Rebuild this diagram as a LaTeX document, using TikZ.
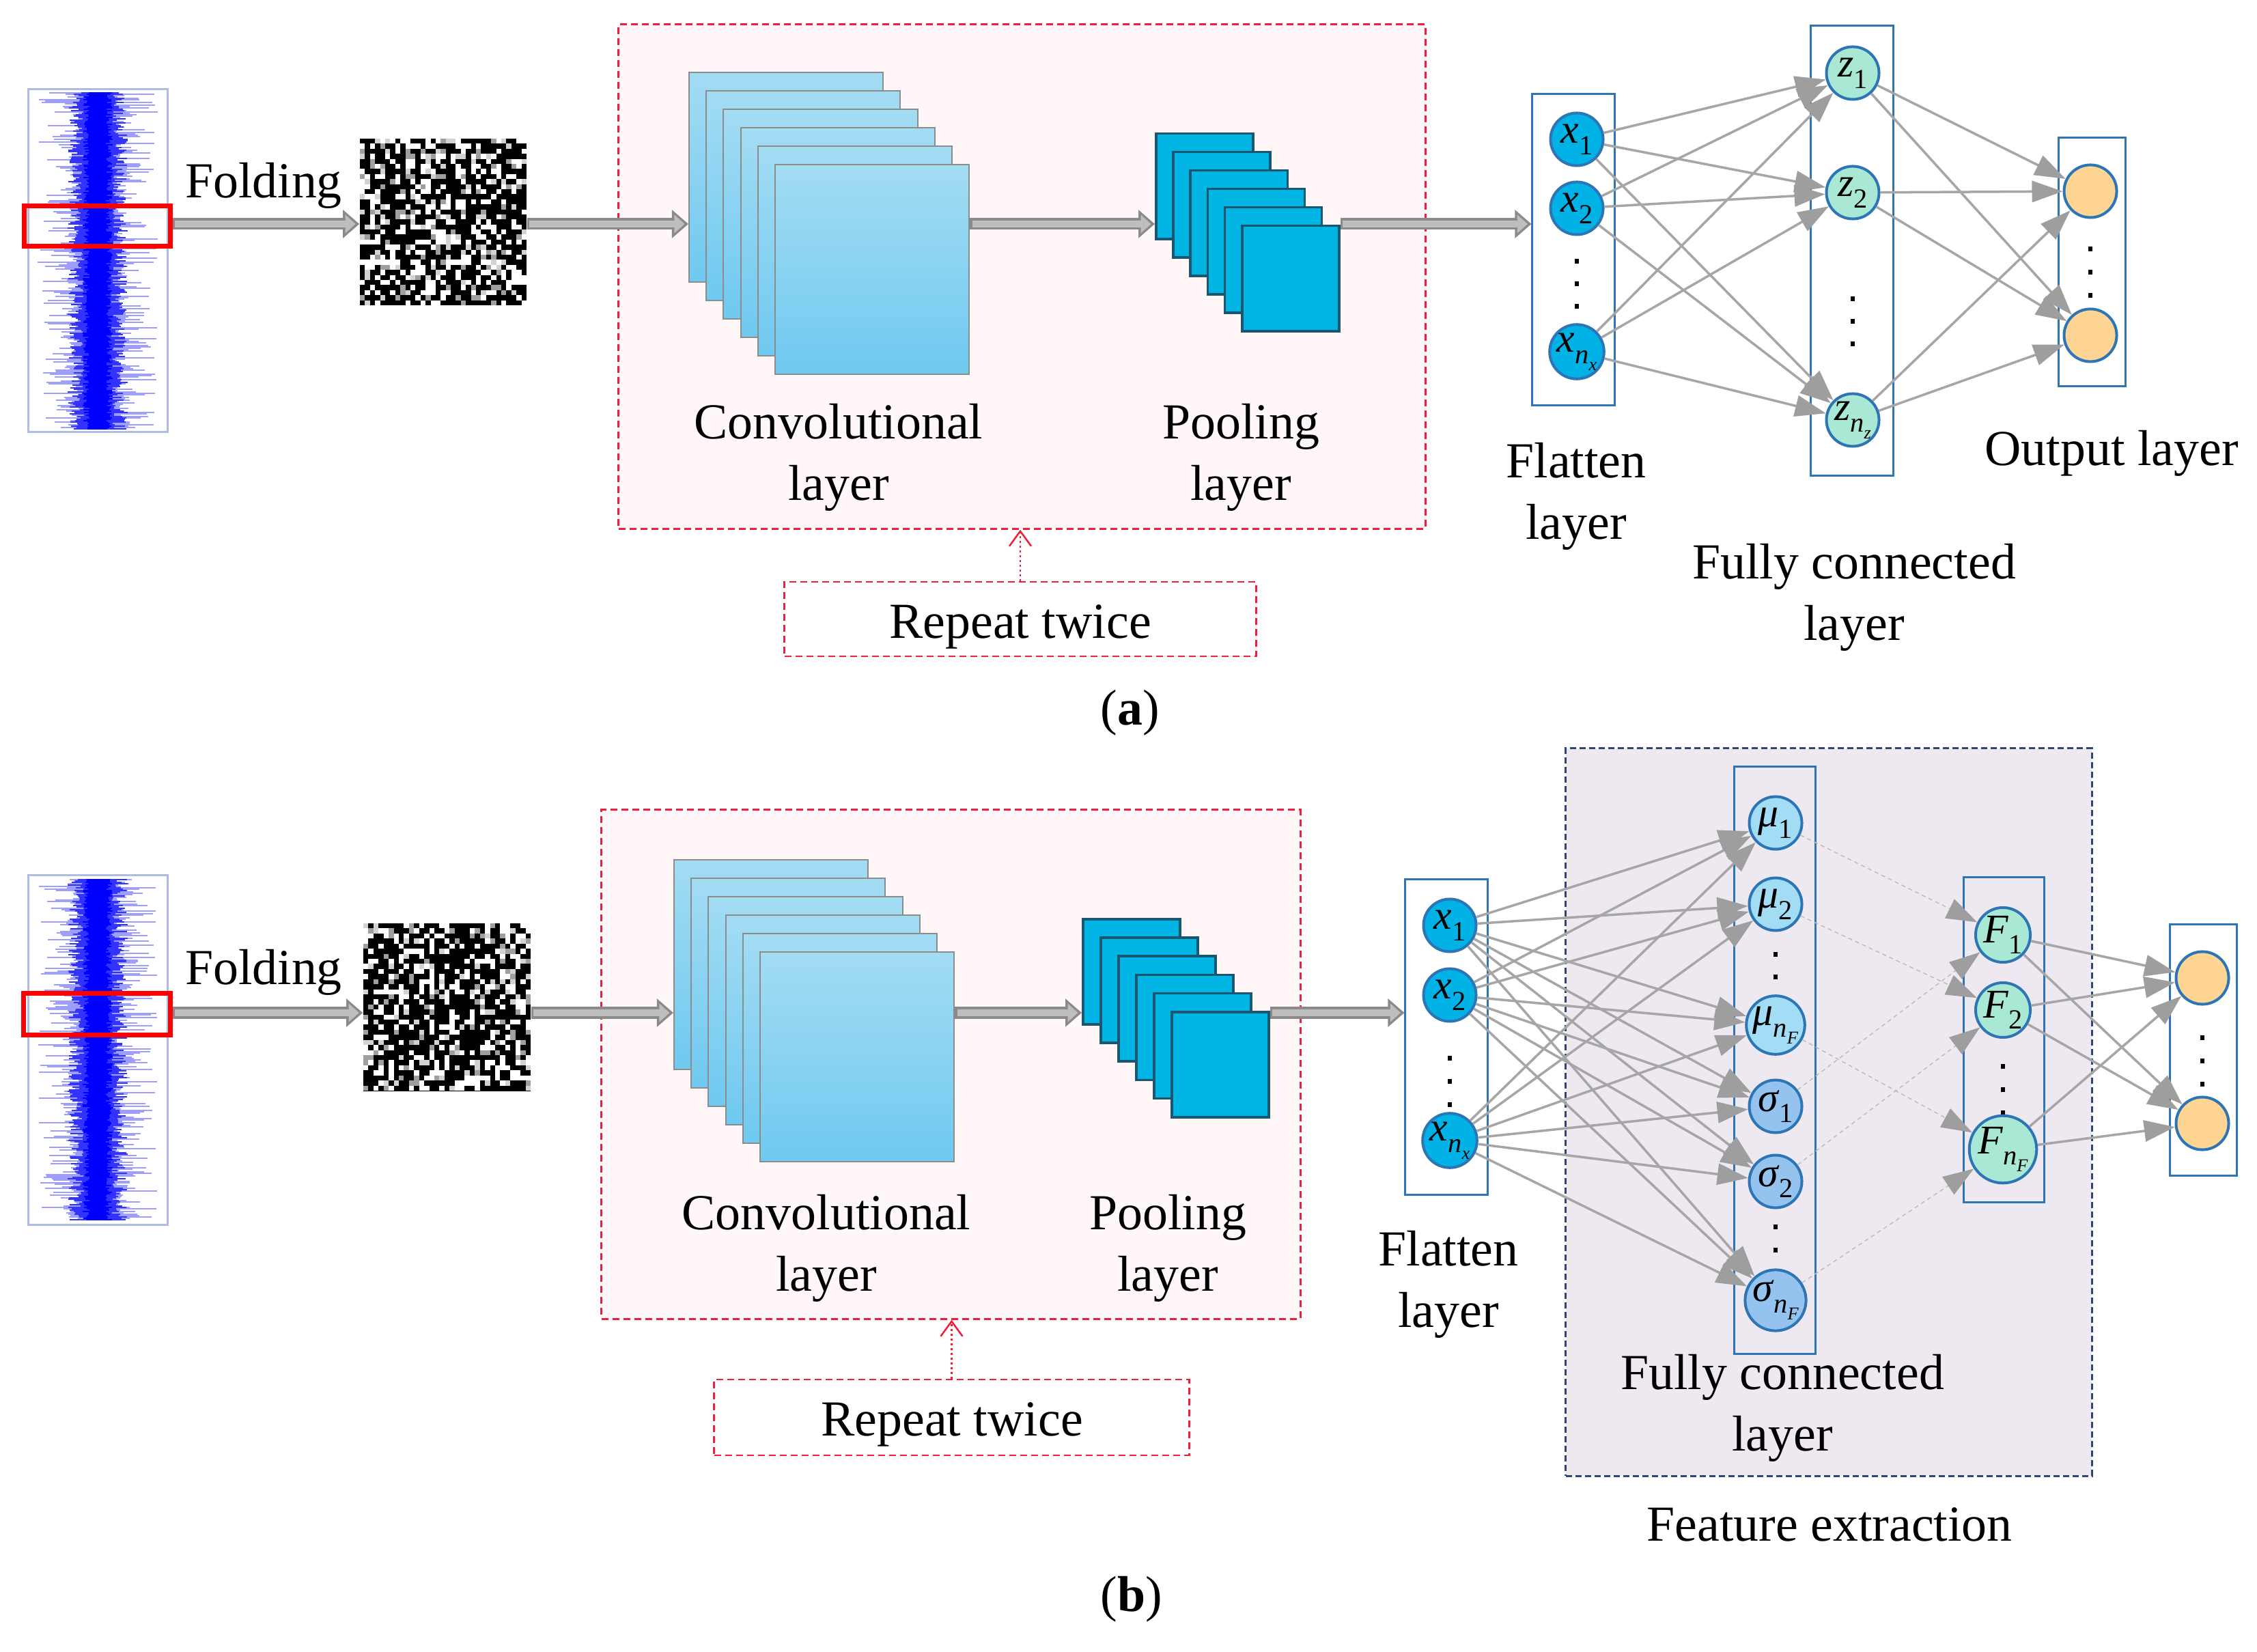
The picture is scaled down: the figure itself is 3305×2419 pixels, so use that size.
\documentclass[tikz,border=0pt]{standalone}
\usepackage{fontspec}
\setmainfont{Liberation Serif}
\usetikzlibrary{arrows.meta}
\definecolor{RedDash}{HTML}{EE1E3C}
\definecolor{PinkFill}{HTML}{FFF7F7}
\definecolor{LavFill}{HTML}{EEE9F1}
\definecolor{NavyDash}{HTML}{2F4575}
\definecolor{NodeBlue}{HTML}{2E75B6}
\definecolor{XFill}{HTML}{00B2E6}
\definecolor{ZFill}{HTML}{A8E8D5}
\definecolor{MuFill}{HTML}{A3DCF5}
\definecolor{SigFill}{HTML}{95C3EF}
\definecolor{OFill}{HTML}{FED593}
\definecolor{ConvTop}{HTML}{A3DCF3}
\definecolor{ConvBot}{HTML}{6FC9F0}
\definecolor{ConvLine}{HTML}{8C8C8C}
\definecolor{PoolFill}{HTML}{00B4E4}
\definecolor{PoolLine}{HTML}{1B5670}
\definecolor{ConnGray}{HTML}{A6A6A6}
\definecolor{HeadGray}{HTML}{9E9E9E}
\definecolor{DashGray}{HTML}{BDBDBD}
\definecolor{ArrDark}{HTML}{8A8A8A}
\definecolor{ArrLight}{HTML}{BEBEBE}
\definecolor{SigBox}{HTML}{AFBDE0}
\definecolor{SigBlue}{HTML}{0000FF}
\newcommand{\ndlab}[2]{\textit{#1}\raisebox{-0.28em}{\fontsize{11.5}{11.5}\selectfont #2}}
\newcommand{\nsb}[1]{\textit{n}\raisebox{-0.25em}{\fontsize{7.5}{7.5}\selectfont\textit{#1}}}
\tikzset{
  dashbox/.style={draw=RedDash, fill=PinkFill, line width=0.028cm, dash pattern=on 0.1cm off 0.06cm, inner sep=0pt, rectangle},
  featbox/.style={draw=NavyDash, fill=LavFill, line width=0.03cm, dash pattern=on 0.09cm off 0.05cm, inner sep=0pt, rectangle},
  repbox/.style={draw=RedDash, fill=white, line width=0.028cm, dash pattern=on 0.1cm off 0.06cm, inner sep=0pt, rectangle},
  reparrow/.style={draw=RedDash, line width=0.025cm, dash pattern=on 0.03cm off 0.04cm, -{Straight Barb[length=0.22cm,width=0.32cm]}},
  sigbox/.style={draw=SigBox, line width=0.03cm, fill=white, inner sep=0pt, rectangle},
  redbox/.style={draw=red, line width=0.07cm, inner sep=0pt, rectangle},
  noisebox/.style={fill=black, inner sep=0pt, rectangle},
  convrect/.style={draw=ConvLine, line width=0.02cm, top color=ConvTop, bottom color=ConvBot, minimum width=2.84cm, minimum height=3.07cm, inner sep=0pt, anchor=north west},
  poolrect/.style={draw=PoolLine, line width=0.035cm, fill=PoolFill, minimum width=1.42cm, minimum height=1.54cm, inner sep=0pt, anchor=north west},
  layerbox/.style={draw=NodeBlue, line width=0.03cm, inner sep=0pt, rectangle},
  neuron/.style={circle, draw=NodeBlue, line width=0.04cm, minimum size=0.77cm, inner sep=0pt, font=\fontsize{17}{17}\selectfont},
  xnode/.style={neuron, fill=XFill},
  znode/.style={neuron, fill=ZFill},
  munode/.style={neuron, fill=MuFill},
  signode/.style={neuron, fill=SigFill},
  onode/.style={neuron, fill=OFill},
  conn/.style={draw=ConnGray, line width=0.035cm, -{Triangle[length=0.45cm,width=0.31cm,color=HeadGray]}},
  dconn/.style={draw=DashGray, line width=0.015cm, dash pattern=on 0.06cm off 0.05cm, -{Triangle[length=0.45cm,width=0.31cm,color=HeadGray]}},
  bigout/.style={draw=ArrDark, line width=0.17cm, -{Triangle[length=0.24cm,width=0.40cm]}},
  bigin/.style={draw=ArrLight, line width=0.10cm, shorten >=0.055cm, shorten <=0.035cm, -{Triangle[length=0.15cm,width=0.26cm]}},
  lbl/.style={font=\fontsize{21}{25.6}\selectfont, align=center, inner sep=0pt}
}
\begin{document}
\begin{tikzpicture}[x=0.01cm,y=-0.01cm]
\useasboundingbox (0,0) rectangle (3305,2419);
\fill[white] (0,0) rectangle (3305,2419);
\coordinate (rowA) at (0,328);
\coordinate (rowB) at (0,1483);

% ---------- backgrounds ----------
\node[dashbox, minimum width=11.81cm, minimum height=7.38cm] (boxA) at (1496.5,405) {};
\node[dashbox, minimum width=10.23cm, minimum height=7.45cm] (boxB) at (1392.5,1558.5) {};
\node[featbox, minimum width=7.70cm, minimum height=10.65cm] (featB) at (2678,1628.5) {};

% ---------- signals ----------
\node[sigbox, minimum width=2.03cm, minimum height=5.01cm] (sigA) at (143.5,381.5) {};
\node[sigbox, minimum width=2.03cm, minimum height=5.11cm] (sigB) at (143.5,1537.5) {};
\pgfmathsetseed{7}
\foreach \yy in {136,138,...,628}{%
  \pgfmathsetmacro\la{28+60*pow(rnd,2.5)}\pgfmathsetmacro\ra{28+60*pow(rnd,2.5)}%
  \draw[SigBlue!38, line width=0.022cm] ({143-\la},\yy) -- ({143+\ra},\yy);
  \pgfmathsetmacro\lb{20+24*rnd}\pgfmathsetmacro\rb{20+24*rnd}%
  \draw[SigBlue!80, line width=0.022cm] ({143-\lb},\yy) -- ({143+\rb},\yy);
  \pgfmathsetmacro\lc{12+10*rnd}\pgfmathsetmacro\rc{12+10*rnd}%
  \draw[SigBlue, line width=0.025cm] ({143-\lc},\yy) -- ({143+\rc},\yy);
}
\foreach \yy in {1288,1290,...,1786}{%
  \pgfmathsetmacro\la{28+60*pow(rnd,2.5)}\pgfmathsetmacro\ra{28+60*pow(rnd,2.5)}%
  \draw[SigBlue!38, line width=0.022cm] ({143-\la},\yy) -- ({143+\ra},\yy);
  \pgfmathsetmacro\lb{20+24*rnd}\pgfmathsetmacro\rb{20+24*rnd}%
  \draw[SigBlue!80, line width=0.022cm] ({143-\lb},\yy) -- ({143+\rb},\yy);
  \pgfmathsetmacro\lc{12+10*rnd}\pgfmathsetmacro\rc{12+10*rnd}%
  \draw[SigBlue, line width=0.025cm] ({143-\lc},\yy) -- ({143+\rc},\yy);
}
\node[redbox, minimum width=2.13cm, minimum height=0.59cm] (redA) at (142.5,331) {};
\node[redbox, minimum width=2.14cm, minimum height=0.60cm] (redB) at (142,1485) {};

% ---------- noise images ----------
\node[noisebox, minimum size=2.44cm] (noiseA) at (649,325) {};
\node[noisebox, minimum size=2.45cm] (noiseB) at (654.5,1475) {};
\pgfmathsetseed{31}
\foreach \i in {0,...,32}{\foreach \j in {0,...,32}{%
  \pgfmathtruncatemacro\c{100*rnd}%
  \ifnum\c<27 \fill[white] ({527+7.394*\i},{203+7.394*\j}) rectangle ++(7.394,7.394);\fi
  \ifnum\c>26 \ifnum\c<33 \fill[gray!35] ({527+7.394*\i},{203+7.394*\j}) rectangle ++(7.394,7.394);\fi\fi
  \ifnum\c>32 \ifnum\c<40 \fill[gray!75] ({527+7.394*\i},{203+7.394*\j}) rectangle ++(7.394,7.394);\fi\fi
}}
\foreach \i in {0,...,32}{\foreach \j in {0,...,32}{%
  \pgfmathtruncatemacro\c{100*rnd}%
  \ifnum\c<27 \fill[white] ({532+7.424*\i},{1352+7.424*\j}) rectangle ++(7.424,7.424);\fi
  \ifnum\c>26 \ifnum\c<33 \fill[gray!35] ({532+7.424*\i},{1352+7.424*\j}) rectangle ++(7.424,7.424);\fi\fi
  \ifnum\c>32 \ifnum\c<40 \fill[gray!75] ({532+7.424*\i},{1352+7.424*\j}) rectangle ++(7.424,7.424);\fi\fi
}}

% ---------- conv & pool stacks ----------
\foreach \i in {1,...,6}{\node[convrect] (convA\i) at ({1008+25.2*(\i-1)},{105+27*(\i-1)}) {};}
\foreach \i in {1,...,6}{\node[poolrect] (poolA\i) at ({1691+25.2*(\i-1)},{194+27*(\i-1)}) {};}
\foreach \i in {1,...,6}{\node[convrect] (convB\i) at ({986+25.2*(\i-1)},{1258+27*(\i-1)}) {};}
\foreach \i in {1,...,6}{\node[poolrect] (poolB\i) at ({1584+26*(\i-1)},{1344+27.2*(\i-1)}) {};}

% ---------- layer boxes ----------
\node[layerbox, minimum width=1.20cm, minimum height=4.55cm] (flatA) at (2304,365.5) {};
\node[layerbox, minimum width=1.20cm, minimum height=6.58cm] (zboxA) at (2712,367) {};
\node[layerbox, minimum width=0.98cm, minimum height=3.63cm] (oboxA) at (3063,383.5) {};
\node[layerbox, minimum width=1.20cm, minimum height=4.61cm] (flatB) at (2118,1518.5) {};
\node[layerbox, minimum width=1.18cm, minimum height=8.59cm] (muboxB) at (2599,1552.5) {};
\node[layerbox, minimum width=1.17cm, minimum height=4.75cm] (FboxB) at (2934.5,1522.5) {};
\node[layerbox, minimum width=0.98cm, minimum height=3.67cm] (oboxB) at (3226,1537.5) {};

% ---------- big arrows ----------
\foreach \s/\t/\r in {redA/noiseA/rowA, noiseA/convA1/rowA, convA6/poolA1/rowA, poolA6/flatA/rowA,
                      redB/noiseB/rowB, noiseB/convB1/rowB, convB6/poolB1/rowB, poolB6/flatB/rowB}{
  \draw[bigout] (\s.east |- \r) -- (\t.west |- \r);
  \draw[bigin] (\s.east |- \r) -- (\t.west |- \r);
}

% ---------- dots ----------
\foreach \x/\y in {2309/383,2309/416,2309/449, 2713/438,2713/471,2713/504, 3061/365,3061/399,3061/433,
                   2123/1549,2123/1583,2123/1617, 2600/1397,2600/1430,2600/1463, 2600/1796,2600/1830,2600/1863,
                   2933/1561,2933/1595,2933/1629, 3225/1519,3225/1553,3225/1587}{
  \fill[black] ({\x-3},{\y-3.5}) rectangle ({\x+3},{\y+3.5});
}

% ---------- neurons (a) ----------
\node[xnode] (xa1) at (2309,204) {\ndlab{x}{1}};
\node[xnode] (xa2) at (2309,305) {\ndlab{x}{2}};
\node[xnode] (xan) at (2309,515) {\ndlab{x}{\nsb{x}}};
\node[znode] (za1) at (2713,107) {\ndlab{z}{1}};
\node[znode] (za2) at (2713,282) {\ndlab{z}{2}};
\node[znode] (zan) at (2713,615) {\ndlab{z}{\nsb{z}}};
\node[onode] (oa1) at (3061,280) {};
\node[onode] (oa2) at (3061,491) {};

% ---------- neurons (b) ----------
\node[xnode] (xb1) at (2123,1355) {\ndlab{x}{1}};
\node[xnode] (xb2) at (2123,1457) {\ndlab{x}{2}};
\node[xnode] (xbn) at (2123,1670) {\ndlab{x}{\nsb{x}}};
\node[munode] (mu1) at (2600,1205) {\ndlab{μ}{1}};
\node[munode] (mu2) at (2600,1324) {\ndlab{μ}{2}};
\node[munode] (mun) at (2600,1501) {\ndlab{μ}{\nsb{F}}};
\node[signode] (sg1) at (2600,1620) {\ndlab{σ}{1}};
\node[signode] (sg2) at (2600,1730) {\ndlab{σ}{2}};
\node[signode] (sgn) at (2600,1904) {\ndlab{σ}{\nsb{F}}};
\node[znode] (F1) at (2933,1369) {\ndlab{F}{1}};
\node[znode] (F2) at (2933,1479) {\ndlab{F}{2}};
\node[znode] (Fn) at (2933,1683) {\ndlab{F}{\nsb{F}}};
\node[onode] (ob1) at (3225,1432) {};
\node[onode] (ob2) at (3225,1645) {};

% ---------- connections ----------
\foreach \s in {xa1,xa2,xan}{\foreach \t in {za1,za2,zan}{\draw[conn] (\s) -- (\t);}}
\foreach \s in {za1,za2,zan}{\foreach \t in {oa1,oa2}{\draw[conn] (\s) -- (\t);}}
\foreach \s in {xb1,xb2,xbn}{\foreach \t in {mu1,mu2,mun,sg1,sg2,sgn}{\draw[conn] (\s) -- (\t);}}
\foreach \s/\t in {mu1/F1, mu2/F2, mun/Fn, sg1/F1, sg2/F2, sgn/Fn}{\draw[dconn] (\s) -- (\t);}
\foreach \s in {F1,F2,Fn}{\foreach \t in {ob1,ob2}{\draw[conn] (\s) -- (\t);}}

% ---------- repeat boxes ----------
\node[repbox, minimum width=6.90cm, minimum height=1.09cm] (repA) at (1494,906.5) {};
\node[repbox, minimum width=6.95cm, minimum height=1.11cm] (repB) at (1393.5,2075.5) {};
\node[lbl] (reptxtA) at (1494,918) {Repeat twice};
\node[lbl] (reptxtB) at (1394,2086) {Repeat twice};
\draw[reparrow] (repA.north) -- (boxA.south -| repA.north);
\draw[reparrow] (repB.north) -- (boxB.south -| repB.north);

% ---------- labels ----------
\node[lbl] (foldA) at (386,272) {Folding};
\node[lbl] (convlblA) at (1228,670) {Convolutional\\layer};
\node[lbl] (poollblA) at (1817,670) {Pooling\\layer};
\node[lbl] (flatlblA) at (2308,727) {Flatten\\layer};
\node[lbl] (fclblA) at (2715,875) {Fully connected\\layer};
\node[lbl] (outlblA) at (3092,664) {Output layer};
\node[lbl] (capA) at (1655,1044) {(\textbf{a})};
\node[lbl] (foldB) at (386,1424) {Folding};
\node[lbl] (convlblB) at (1210,1828) {Convolutional\\layer};
\node[lbl] (poollblB) at (1710,1828) {Pooling\\layer};
\node[lbl] (flatlblB) at (2121,1881) {Flatten\\layer};
\node[lbl] (fclblB) at (2610,2062) {Fully connected\\layer};
\node[lbl] (featlblB) at (2679,2232) {Feature extraction};
\node[lbl] (capB) at (1657,2342) {(\textbf{b})};
\end{tikzpicture}
\end{document}
